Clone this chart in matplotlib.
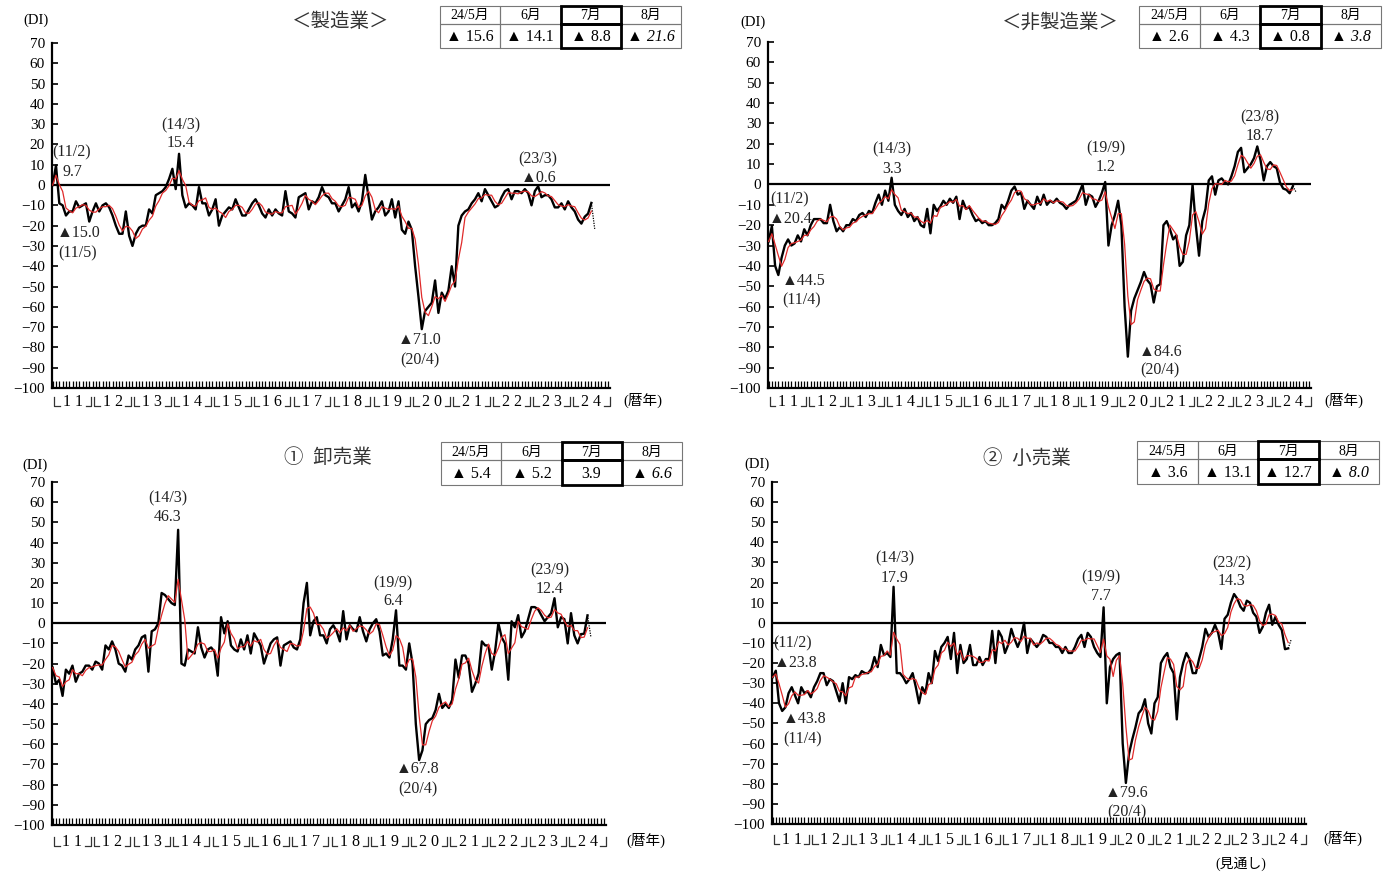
import numpy as np
import pandas as pd
import matplotlib
matplotlib.use("Agg")
import matplotlib.pyplot as plt
from matplotlib.patches import Rectangle

plt.rcParams['font.family'] = ['Liberation Serif', 'Noto Sans CJK JP', 'DejaVu Sans']

# monthly DI, 2011/1 .. 2024/7 (black line); 8月 is the outlook (dotted)
mfg = [
    0, 9.7, -9, -10, -15.0, -13, -13, -8, -11, -10, -9, -18,
    -13, -9, -13, -10, -9, -11, -15, -20, -24, -24, -13, -25,
    -30, -24, -21, -20, -20, -12, -14, -5, -4, -3, -1, 3,
    8, -2, 15.4, -5, -11, -9, -10, -12, -1, -9, -9, -15,
    -12, -7, -20, -15, -13, -11, -12, -7, -11, -15, -15, -12,
    -9, -7, -10, -14, -16, -12, -15, -12, -14, -15, -3, -13,
    -14, -16, -6, -5, -4, -12, -8, -9, -6, -1, -5, -6,
    -9, -9, -13, -10, -7, -1, -11, -9, -13, -8, 5, -6,
    -17, -13, -11, -8, -15, -13, -7, -16, -8, -22, -24, -18,
    -22, -40, -55, -71.0, -62, -60, -58, -47, -63, -53, -56, -52,
    -40, -50, -20, -15, -13, -12, -9, -7, -4, -8, -2, -5,
    -8, -11, -10, -6, -3, -2, -7, -3, -3, -4, -2, -4,
    -10, -3, -0.6, -6, -5, -5, -7, -11, -11, -9, -12, -8,
    -11, -13, -17, -19, -15.6, -14.1, -8.8,
]
mfg_fc = -21.6

nonmfg = [
    -28, -20.4, -40, -44.5, -36, -30, -27, -30, -29, -25, -28, -22,
    -25, -20, -17, -17, -17, -19, -19, -10, -18, -23, -21, -23,
    -20, -20, -17, -18, -15, -14, -16, -13, -14, -9, -5, -10,
    -3, -8, 3.3, -10, -13, -15, -12, -16, -14, -18, -16, -20,
    -21, -12, -24, -10, -13, -11, -8, -10, -7, -9, -6, -17,
    -8, -12, -11, -15, -18, -17, -19, -18, -20, -20, -19, -17,
    -10, -12, -8, -3, -1, -5, -4, -12, -8, -10, -12, -6,
    -10, -5, -10, -8, -9, -7, -9, -10, -12, -10, -9, -8,
    -4, 0, -10, -5, -6, -11, -8, -4, 1.2, -30, -20, -15,
    -8, -20, -60, -84.6, -62, -56, -52, -48, -43, -47, -49, -58,
    -50, -49, -20, -18, -22, -27, -25, -40, -38, -25, -20, 0,
    -20, -35, -18, -12, 2, 4, -5, 2, 3, 1, 0, 4,
    9, 16, 18, 6, 8, 10, 13, 18.7, 12, 2, 9, 11,
    9, 8, 1, -2, -2.6, -4.3, -0.8,
]
nonmfg_fc = -3.8

wholesale = [
    -22, -30, -28, -36, -23, -25, -21, -29, -25, -24, -21, -21,
    -23, -19, -20, -23, -11, -13, -9, -13, -20, -21, -24, -16,
    -18, -13, -11, -7, -6, -24, -4, -3, 0, 15, 14, 12,
    10, 9, 46.3, -20, -21, -13, -14, -15, -2, -12, -17, -13,
    -12, -14, -26, 3, -5, 1, -11, -13, -14, -8, -13, -6,
    -15, -5, -8, -11, -20, -15, -10, -8, -7, -21, -11, -10,
    -9, -12, -13, -8, 10, 20, -6, 1, 3, -6, -6, -10,
    -3, -1, -4, -9, 6, -8, -1, -3, -4, 3, -4, -9,
    -3, 0, 2, -4, -16, -15, -17, -8, 6.4, -21, -21, -23,
    -10, -20, -50, -67.8, -63, -50, -48, -47, -43, -35, -42, -40,
    -42, -38, -18, -27, -16, -16, -20, -34, -30, -25, -9, -11,
    -11, -23, -14, 0, -7, -10, -28, 1, -2, 4, -7, -4,
    2, 8, 8, 7, 4, 1, 3, 5, 12.4, -2, 3, 2,
    -10, 5, -6, -10, -5.4, -5.2, 3.9,
]
wholesale_fc = -6.6

retail = [
    -27, -23.8, -40, -43.8, -42, -35, -32, -36, -40, -32, -35, -34,
    -37, -32, -29, -25, -25, -31, -28, -29, -34, -39, -30, -40,
    -27, -28, -26, -27, -24, -25, -25, -23, -17, -22, -11, -16,
    -15, -17, 17.9, -25, -25, -27, -30, -28, -25, -32, -40, -32,
    -35, -25, -30, -14, -19, -12, -10, -7, -18, -5, -25, -11,
    -20, -18, -11, -21, -21, -17, -21, -18, -18, -4, -20, -4,
    -7, -15, -11, -3, -8, -12, -8, 0, -15, -8, -10, -12,
    -10, -6, -7, -10, -10, -12, -12, -15, -12, -15, -15, -12,
    -8, -6, -12, -5, -7, -12, -15, -17, 7.7, -40, -22, -18,
    -16, -15, -60, -79.6, -65, -58, -52, -45, -43, -38, -50, -55,
    -40, -37, -20, -17, -15, -22, -25, -48, -27, -20, -15, -18,
    -25, -25, -18, -12, -3, -7, -5, -1, -5, -13, 2, 4,
    10, 14.3, 12, 8, 6, 11, 10, 5, 3, -5, -2, 5,
    9, -1, 3, -1, -3.6, -13.1, -12.7,
]
retail_fc = -8.0

table_heads = ['24/5月', '6月', '7月', '8月']
year_labels = [str(y % 100) for y in range(2011, 2025)]

W, H = 1389, 873
fig = plt.figure(figsize=(W / 100, H / 100), dpi=100)


def fmt(v, space=True):
    if v < 0:
        return ('▲ ' if space else '▲') + f'{abs(v):.1f}'
    return f'{v:.1f}'


def panel(box, data, fc, label_y):
    x0, y0, x1, y1 = box
    hpx = y1 - y0
    ax = fig.add_axes([x0 / W, 1 - y1 / H, (x1 - x0) / W, hpx / H])
    ax.set_xlim(-0.2, 167.6)
    ax.set_ylim(-100, 70)
    x = np.arange(len(data))
    ax.axhline(0, color='black', lw=1.6, zorder=2)
    ax.plot(x, data, color='black', lw=1.7, zorder=3)
    ma = pd.Series(data).rolling(3, min_periods=1).mean()
    ax.plot(x, ma, color='#e02a2a', lw=0.9, zorder=4)
    ax.plot([x[-1], x[-1] + 1], [data[-1], fc], color='black', lw=0.9, ls=(0, (1, 1)), zorder=3)
    for s in ['top', 'right']:
        ax.spines[s].set_visible(False)
    for s in ['left', 'bottom']:
        ax.spines[s].set_linewidth(1.6)
    ax.set_yticks(range(-100, 71, 10))
    ax.set_yticklabels([str(v) if v >= 0 else '−' + str(-v) for v in range(-100, 71, 10)])
    ax.tick_params(axis='y', direction='in', length=4, width=1.2, labelsize=11, pad=5)
    ax.set_xticks(np.arange(0, 168))
    ax.tick_params(axis='x', direction='in', length=5, width=0.9, labelbottom=False)
    ax.patch.set_alpha(0)
    ly = -(label_y - y1) / hpx
    top = ly + 5 / hpx
    bot = ly - 4 / hpx
    tr = ax.get_xaxis_transform()
    for k, lab in enumerate(year_labels):
        a, b = 12 * k + 0.5, 12 * k + 11.5
        ax.plot([a, a, a + 1.6], [top, bot, bot], color='#333333', lw=0.9,
                transform=tr, clip_on=False)
        ax.plot([b, b, b - 1.6], [top, bot, bot], color='#333333', lw=0.9,
                transform=tr, clip_on=False)
        ax.text(12 * k + 6, ly, ' '.join(lab), transform=tr, ha='center', va='center',
                fontsize=11.5)
    return ax


ov = None


def table(tb, vals):
    x0, y0, x1, y1 = tb
    cw = (x1 - x0) / 4
    ym = y0 + (y1 - y0) * 0.42
    for c in range(4):
        cx = x0 + c * cw
        ov.add_patch(Rectangle((cx, y0), cw, ym - y0, fill=False, ec='#777777', lw=0.8))
        ov.add_patch(Rectangle((cx, ym), cw, y1 - ym, fill=False, ec='#777777', lw=0.8))
        ov.text(cx + cw / 2, (y0 + ym) / 2 + 1, table_heads[c], ha='center', va='center', fontsize=10)
        ov.text(cx + cw / 2, (ym + y1) / 2 + 1, fmt(vals[c]), ha='center', va='center',
                fontsize=11.5, style='italic' if c == 3 else 'normal')
    cx = x0 + 2 * cw
    ov.add_patch(Rectangle((cx, y0), cw, ym - y0, fill=False, ec='black', lw=2))
    ov.add_patch(Rectangle((cx, ym), cw, y1 - ym, fill=False, ec='black', lw=2))


specs = [
    dict(box=(52, 43, 610, 388), data=mfg, fc=mfg_fc, label_y=402,
         title='＜製造業＞', tpos=(341, 22), di=(36, 20), reki=(643, 400),
         tb=(440, 6, 681, 48),
         notes=[('(11/2)', 72, 152), ('9.7', 72, 172), ('▲15.0', 79, 233), ('(11/5)', 78, 253),
                ('(14/3)', 181, 125), ('15.4', 181, 143), ('▲71.0', 420, 340), ('(20/4)', 420, 360),
                ('(23/3)', 538, 159), ('▲0.6', 539, 178)]),
    dict(box=(768, 42, 1311, 388), data=nonmfg, fc=nonmfg_fc, label_y=402,
         title='＜非製造業＞', tpos=(1060, 22), di=(753, 22), reki=(1344, 400),
         tb=(1139, 6, 1381, 48),
         notes=[('(11/2)', 790, 199), ('▲20.4', 791, 219), ('▲44.5', 804, 281), ('(11/4)', 802, 300),
                ('(14/3)', 892, 149), ('3.3', 892, 169), ('(19/9)', 1106, 148), ('1.2', 1106, 167),
                ('▲84.6', 1161, 352), ('(20/4)', 1160, 370), ('(23/8)', 1260, 117), ('18.7', 1260, 136)]),
    dict(box=(52, 482, 606, 825), data=wholesale, fc=wholesale_fc, label_y=842,
         title='①  卸売業', tpos=(328, 458), di=(35, 465), reki=(646, 840),
         tb=(441, 442, 682, 485),
         notes=[('(14/3)', 168, 498), ('46.3', 168, 517), ('(19/9)', 393, 583), ('6.4', 393, 601),
                ('▲67.8', 418, 769), ('(20/4)', 418, 789), ('(23/9)', 550, 570), ('12.4', 550, 589)]),
    dict(box=(772, 482, 1306, 824), data=retail, fc=retail_fc, label_y=840,
         title='②  小売業', tpos=(1027, 459), di=(757, 464), reki=(1343, 838),
         tb=(1137, 441, 1379, 484),
         notes=[('(11/2)', 793, 643), ('▲23.8', 796, 663), ('▲43.8', 805, 719), ('(11/4)', 803, 739),
                ('(14/3)', 895, 558), ('17.9', 895, 578), ('(19/9)', 1101, 577), ('7.7', 1101, 596),
                ('▲79.6', 1127, 793), ('(20/4)', 1127, 812), ('(23/2)', 1232, 563), ('14.3', 1232, 581)]),
]

for sp in specs:
    panel(sp['box'], sp['data'], sp['fc'], sp['label_y'])

ov = fig.add_axes([0, 0, 1, 1])
ov.set_xlim(0, W)
ov.set_ylim(H, 0)
ov.axis('off')

for sp in specs:
    d = sp['data']
    table(sp['tb'], [d[-3], d[-2], d[-1], sp['fc']])
    ov.text(*sp['tpos'], sp['title'], ha='center', va='center', fontsize=14, color='#333333')
    ov.text(*sp['di'], '(DI)', ha='center', va='center', fontsize=10.5)
    ov.text(*sp['reki'], '(暦年)', ha='center', va='center', fontsize=10.5)
    for txt, nx, ny in sp['notes']:
        ov.text(nx, ny, txt, ha='center', va='center', fontsize=11.5, color='#222222')

ov.text(1241, 864, '(見通し)', ha='center', va='center', fontsize=10)

fig.savefig('out.png', dpi=100)
